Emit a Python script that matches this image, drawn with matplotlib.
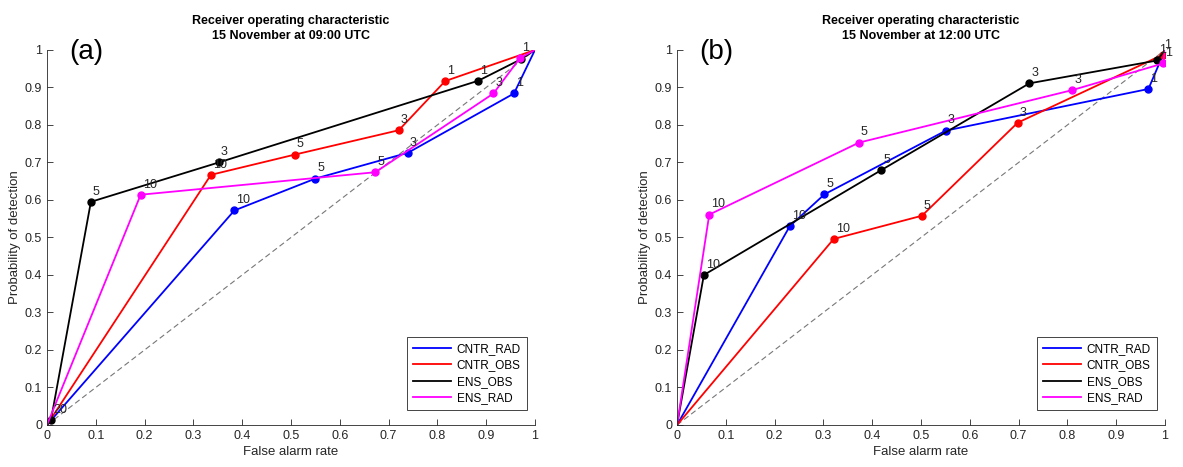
import matplotlib
matplotlib.use('Agg')
import matplotlib.pyplot as plt

plt.rcParams['font.family'] = ['Liberation Sans', 'DejaVu Sans']

names = ['CNTR_RAD', 'CNTR_OBS', 'ENS_OBS', 'ENS_RAD']
colors = ['#0000ff', '#ff0000', '#000000', '#ff00ff']

# panel (a): 15 November 09:00 UTC
far_a = {
    'CNTR_RAD': [0.384, 0.550, 0.740, 0.957],
    'CNTR_OBS': [0.336, 0.508, 0.721, 0.816],
    'ENS_OBS': [0.008, 0.090, 0.352, 0.884, 0.971],
    'ENS_RAD': [0.192, 0.673, 0.915, 0.969],
}
pod_a = {
    'CNTR_RAD': [0.572, 0.657, 0.726, 0.884],
    'CNTR_OBS': [0.667, 0.721, 0.786, 0.917],
    'ENS_OBS': [0.012, 0.595, 0.700, 0.918, 0.975],
    'ENS_RAD': [0.614, 0.674, 0.884, 0.978],
}
lab_a = {
    'CNTR_RAD': ['10', '5', '3', '1'],
    'CNTR_OBS': ['10', '5', '3', '1'],
    'ENS_OBS': ['20', '5', '3', '1', ''],
    'ENS_RAD': ['10', '5', '3', '1'],
}

# panel (b): 15 November 12:00 UTC
far_b = {
    'CNTR_RAD': [0.231, 0.302, 0.551, 0.966],
    'CNTR_OBS': [0.321, 0.502, 0.698, 0.995],
    'ENS_OBS': [0.055, 0.419, 0.722, 0.984],
    'ENS_RAD': [0.066, 0.373, 0.810, 0.996],
}
pod_b = {
    'CNTR_RAD': [0.530, 0.615, 0.785, 0.896],
    'CNTR_OBS': [0.496, 0.558, 0.806, 0.987],
    'ENS_OBS': [0.400, 0.680, 0.911, 0.972],
    'ENS_RAD': [0.561, 0.753, 0.893, 0.964],
}
lab_b = {
    'CNTR_RAD': ['10', '5', '3', '1'],
    'CNTR_OBS': ['10', '5', '3', '1'],
    'ENS_OBS': ['10', '5', '3', '1'],
    'ENS_RAD': ['10', '5', '3', '1'],
}

panels = [
    ('(a)', '15 November at 09:00 UTC', far_a, pod_a, lab_a),
    ('(b)', '15 November at 12:00 UTC', far_b, pod_b, lab_b),
]

fig = plt.figure(figsize=(11.83, 4.67), dpi=100)
lefts = [0.0397, 0.5723]
ticks = [i / 10 for i in range(11)]
ticklabels = ['0'] + ['%.1f' % t for t in ticks[1:-1]] + ['1']
axcol = '#262626'

for left, (tag, sub, far, pod, lab) in zip(lefts, panels):
    ax = fig.add_axes([left, 0.09, 0.4125, 0.803])
    ax.plot([0, 1], [0, 1], '--', color='#777777', lw=0.8, dashes=(5, 3))
    for name, c in zip(names, colors):
        x = [0] + far[name] + [1]
        y = [0] + pod[name] + [1]
        ax.plot(x, y, '-', color=c, lw=1.3, label=name)
        ax.plot(far[name], pod[name], 'o', color=c, ms=5)
        for xi, yi, t in zip(far[name], pod[name], lab[name]):
            ax.text(xi + 0.004, yi + 0.027, t, fontsize=9, va='center', ha='left', color='#262626')
    ax.set_xlim(0, 1)
    ax.set_ylim(0, 1)
    ax.set_xticks(ticks)
    ax.set_xticklabels(ticklabels)
    ax.set_yticks(ticks)
    ax.set_yticklabels(ticklabels)
    ax.tick_params(direction='in', length=4, labelsize=9, colors=axcol, width=0.6)
    for s in ['top', 'right']:
        ax.spines[s].set_visible(False)
    for s in ['left', 'bottom']:
        ax.spines[s].set_color(axcol)
        ax.spines[s].set_linewidth(0.6)
    ax.set_xlabel('False alarm rate', fontsize=9.5, color=axcol, labelpad=3)
    ax.set_ylabel('Probability of detection', fontsize=9.5, color=axcol, labelpad=3)
    ax.set_title('Receiver operating characteristic\n' + sub, fontsize=9, fontweight='bold', pad=8, linespacing=1.3)
    ax.text(0.045, 0.995, tag, fontsize=20, va='center', ha='left')
    leg = ax.legend(loc='lower right', bbox_to_anchor=(0.995, 0.025), fontsize=8.5,
                    frameon=True, fancybox=False, edgecolor='#262626', framealpha=1,
                    handlelength=3.2, borderpad=0.5, labelspacing=0.35, handletextpad=0.5)
    leg.get_frame().set_linewidth(0.6)

fig.savefig('out.png', dpi=100)
